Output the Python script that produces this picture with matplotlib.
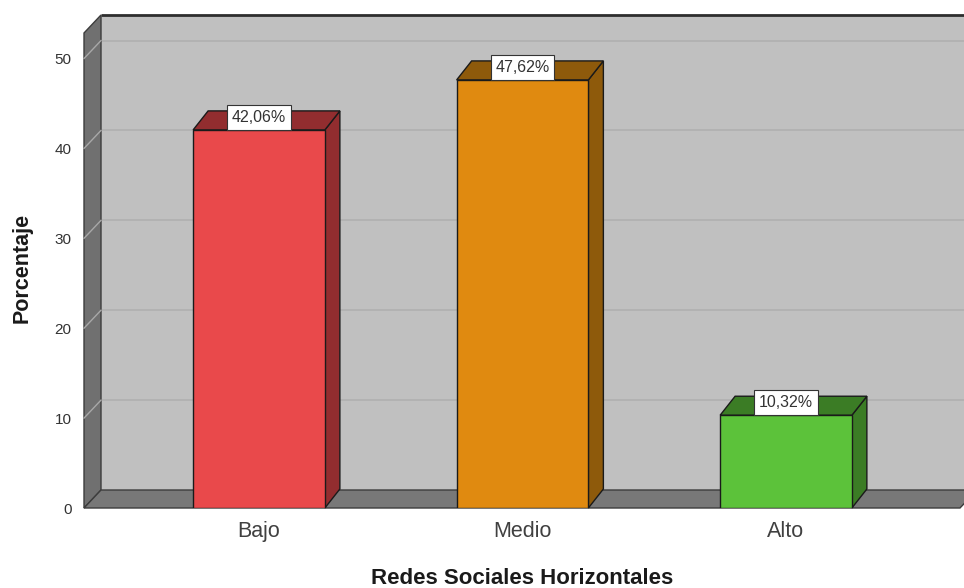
import matplotlib
matplotlib.use("Agg")
import matplotlib.pyplot as plt
from matplotlib.patches import Polygon

plt.rcParams['font.family'] = ['Liberation Sans', 'DejaVu Sans']

# Data
categories = ["Bajo", "Medio", "Alto"]
percentages = [42.06, 47.62, 10.32]
value_labels = ["42,06%", "47,62%", "10,32%"]
yticks = [0, 10, 20, 30, 40, 50]
xlabel = "Redes Sociales Horizontales"
ylabel = "Porcentaje"

front_colors = ["#E9494B", "#E08A10", "#5CC23A"]
shade_colors = ["#922D2F", "#8E5A0B", "#3B7C25"]

W, H, DPI = 964, 588, 100
fig = plt.figure(figsize=(W / DPI, H / DPI), dpi=DPI)

# Front plane of the chart, in pixels
left_px, right_px, zero_px, top_px = 84, 960, 508, 33
center0_px, step_px = 259, 263.5
ymax = 52.84
ax = fig.add_axes([left_px / W, (H - zero_px) / H,
                   (right_px - left_px) / W, (zero_px - top_px) / H])
xl = (left_px - center0_px) / step_px
xr = (right_px - center0_px) / step_px
ax.set_xlim(xl, xr)
ax.set_ylim(0, ymax)
ppx = step_px                      # pixels per x unit
ppy = (zero_px - top_px) / ymax    # pixels per y unit

# depth offsets (walls and bars)
wdx, wdy = 17 / ppx, 18 / ppy
bdx, bdy = 15 / ppx, 19 / ppy

wall_edge = "#3C3C3C"
# back wall
ax.add_patch(Polygon([(xl + wdx, wdy), (xr + wdx, wdy), (xr + wdx, ymax + wdy),
                      (xl + wdx, ymax + wdy)], closed=True, facecolor="#C0C0C0",
                     edgecolor="none", clip_on=False, zorder=1))
ax.plot([xl + wdx, xr + wdx], [ymax + wdy, ymax + wdy], color="#2E2E2E",
        lw=2, clip_on=False, zorder=2, solid_capstyle="butt")

# grid lines on the back wall
for v in yticks[1:]:
    ax.plot([xl + wdx, xr + wdx], [v + wdy, v + wdy], color="#B0B0B0",
            lw=1.2, clip_on=False, zorder=1.5)

# left wall
ax.add_patch(Polygon([(xl, 0), (xl + wdx, wdy), (xl + wdx, ymax + wdy), (xl, ymax)],
                     closed=True, facecolor="#707070", edgecolor=wall_edge,
                     lw=1, clip_on=False, zorder=3))
for v in yticks[1:]:
    ax.plot([xl, xl + wdx], [v, v + wdy], color="#A8A8A8", lw=1,
            clip_on=False, zorder=3.5)

# floor
ax.add_patch(Polygon([(xl, 0), (xr, 0), (xr + wdx, wdy), (xl + wdx, wdy)],
                     closed=True, facecolor="#787878", edgecolor=wall_edge,
                     lw=1, clip_on=False, zorder=4))

# bars
bw = 0.5
for i, (v, fc, sc, lab) in enumerate(zip(percentages, front_colors, shade_colors,
                                         value_labels)):
    x0, x1 = i - bw / 2, i + bw / 2
    ax.add_patch(Polygon([(x1, 0), (x1 + bdx, bdy), (x1 + bdx, v + bdy), (x1, v)],
                         closed=True, facecolor=sc, edgecolor="#1A1A1A", lw=1,
                         zorder=5, clip_on=False))
    ax.add_patch(Polygon([(x0, v), (x1, v), (x1 + bdx, v + bdy), (x0 + bdx, v + bdy)],
                         closed=True, facecolor=sc, edgecolor="#1A1A1A", lw=1,
                         zorder=5, clip_on=False))
    ax.bar(i, v, width=bw, color=fc, edgecolor="#1A1A1A", linewidth=1, zorder=6)
    ax.annotate(lab, xy=(i, v), xytext=(0, 5), textcoords="offset pixels",
                ha="center", va="bottom", fontsize=11.5, color="#333333", zorder=8,
                bbox=dict(boxstyle="square,pad=0.3", facecolor="white",
                          edgecolor="#333333", lw=0.8))
    ax.annotate(categories[i], xy=(i, 0), xytext=(0, -13), textcoords="offset pixels",
                ha="center", va="top", fontsize=15.5, color="#404040")

# axes styling
for s in ax.spines.values():
    s.set_visible(False)
ax.set_facecolor("none")
ax.set_xticks([])
ax.set_yticks(yticks)
ax.set_yticklabels([str(t) for t in yticks], fontsize=11, color="#333333")
ax.tick_params(axis="y", length=0, pad=9)

fig.text(22 / W, 1 - 268 / H, ylabel, rotation=90, ha="center", va="center",
         fontsize=15.5, fontweight="bold", color="#1A1A1A")
fig.text(522 / W, 1 - 578 / H, xlabel, ha="center", va="center",
         fontsize=16, fontweight="bold", color="#1A1A1A")

fig.savefig("out.png", dpi=DPI)
